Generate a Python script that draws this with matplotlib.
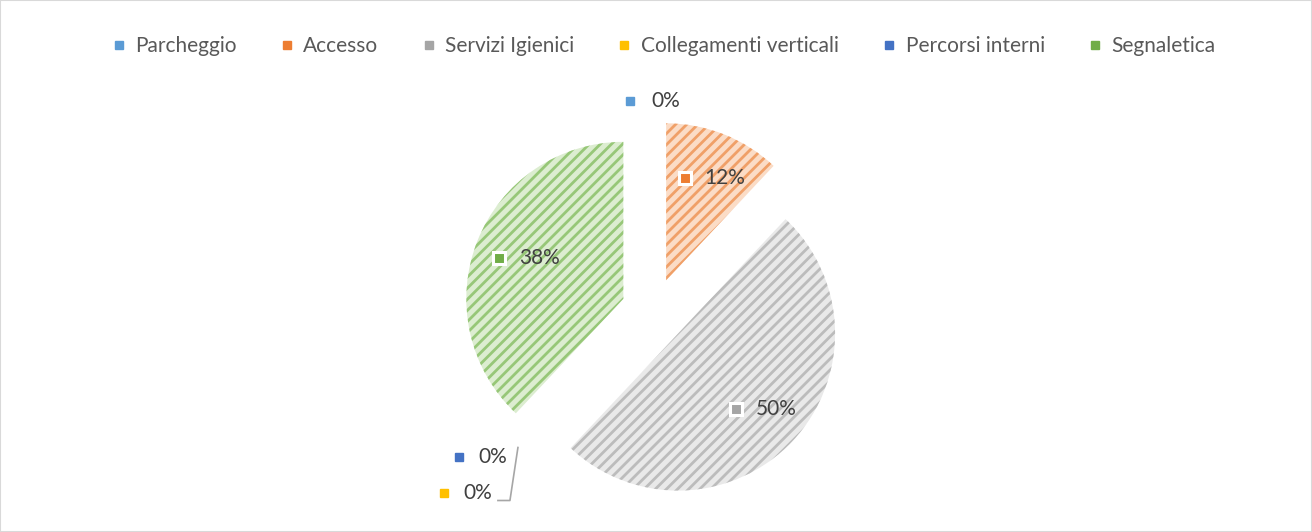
import numpy as np
import matplotlib
matplotlib.use("Agg")
import matplotlib.pyplot as plt
from matplotlib.lines import Line2D
from matplotlib.patches import Rectangle

# data
categories = ["Parcheggio", "Accesso", "Servizi Igienici",
              "Collegamenti verticali", "Percorsi interni", "Segnaletica"]
shares = [0, 12, 50, 0, 0, 38]
label_texts = ["0%", "12%", "50%", "0%", "0%", "38%"]

# styles
base_colors = ["#5B9BD5", "#ED7D31", "#A5A5A5", "#FFC000", "#4472C4", "#70AD47"]
face_colors = ["#D6E6F5", "#FBDCC6", "#E9E9E9", "#FFF0BF", "#D0DCF0", "#DCEDD0"]
hatch_colors = ["#8DB8E2", "#F0A068", "#BCBCBC", "#FFD659", "#7C9BD6", "#97C778"]

plt.rcParams['font.family'] = ['Lato', 'DejaVu Sans']
plt.rcParams['hatch.linewidth'] = 2.0

W, H = 1312, 532
fig = plt.figure(figsize=(W / 100, H / 100), dpi=100)
ax = fig.add_axes([0, 0, 1, 1])

R = 157
wedges, _ = ax.pie(shares, colors=face_colors, explode=[33] * 6,
                   startangle=90, counterclock=False,
                   center=(654, 221), radius=R, hatch='///',
                   wedgeprops=dict(linewidth=0))
for w, hc in zip(wedges, hatch_colors):
    w.set_edgecolor(hc)
    w.set_linewidth(0)

ax.set_xlim(0, W)
ax.set_ylim(0, H)
ax.set_aspect('equal')
ax.axis('off')

txt_col = "#404040"
fs = 15

def mid_dir(w):
    t = np.deg2rad((w.theta1 + w.theta2) / 2)
    return np.array([np.cos(t), np.sin(t)])

for i, w in enumerate(wedges):
    c = np.array(w.center)
    d = mid_dir(w)
    if shares[i] > 0:
        # label inside the slice, boxed marker + text
        p = c + 0.7 * R * d
        ax.plot(p[0] - 22, p[1], marker='s', ms=8.5, mfc=base_colors[i],
                mec='white', mew=2.2, zorder=5)
        ax.text(p[0] - 2, p[1], label_texts[i], color=txt_col, fontsize=fs,
                ha='left', va='center', zorder=5)
    elif i == 0:
        p = c + 1.13 * R * d
        ax.plot(p[0] - 24, p[1], marker='s', ms=5.5, mfc=base_colors[i],
                mec=base_colors[i], zorder=5)
        ax.text(p[0] - 3, p[1], label_texts[i], color=txt_col, fontsize=fs,
                ha='left', va='center', zorder=5)
    else:
        e = c + R * d
        if i == 4:
            p = e + np.array([-41, -7])
        else:
            p = e + np.array([-56, -43])
            # leader line
            ax.plot([p[0] + 30, p[0] + 42, e[0] - 6], [p[1] - 8, p[1] - 8, e[1] + 2],
                    color="#A6A6A6", lw=1.2, zorder=4)
        ax.plot(p[0] - 24, p[1], marker='s', ms=5.5, mfc=base_colors[i],
                mec=base_colors[i], zorder=5)
        ax.text(p[0] - 5, p[1], label_texts[i], color=txt_col, fontsize=fs,
                ha='left', va='center', zorder=5)

handles = [Line2D([], [], ls='none', marker='s', ms=5.5, mfc=c, mec=c)
           for c in base_colors]
fig.legend(handles, categories, loc='center', bbox_to_anchor=(0.506, 0.913),
           ncol=6, frameon=False, fontsize=fs, labelcolor="#595959",
           handlelength=0.6, handletextpad=0.5, columnspacing=2.1)

fig.add_artist(Rectangle((0, 0), 1, 1, transform=fig.transFigure, fill=False,
                         ec="#D9D9D9", lw=1.5))

fig.savefig("out.png", dpi=100)
